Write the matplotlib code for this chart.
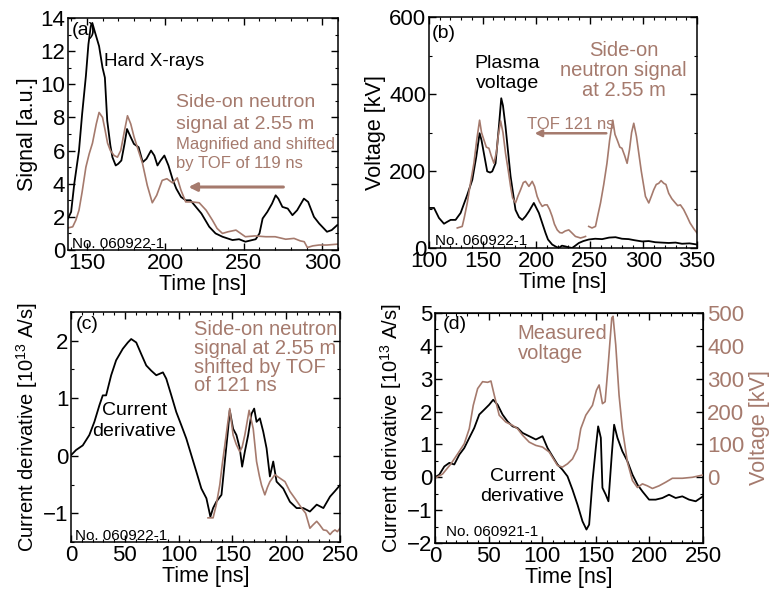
import matplotlib
matplotlib.use('Agg')
import matplotlib.pyplot as plt
from matplotlib.ticker import MultipleLocator

plt.rcParams['font.family'] = ['Liberation Sans', 'DejaVu Sans']
plt.rcParams['mathtext.fontset'] = 'custom'
plt.rcParams['mathtext.rm'] = 'Liberation Sans'

BROWN = '#a57a6d'
NARROW = ['Liberation Sans Narrow', 'Liberation Sans', 'DejaVu Sans']
TICK_FS = 16
LAB_FS = 15.5

# (a) hard X-rays and neutron signal
xray_t = [138, 140, 142, 145, 147, 149.4, 151, 152.5, 153.5, 155, 157.8, 160, 161.5, 163, 165, 166.3,
          168.4, 170, 172, 174, 175.6, 178, 180, 183, 185.6, 188, 190.9, 193, 195, 197, 199.4, 202,
          204.7, 207, 210, 213, 216, 219.5, 223, 228, 232, 236.4, 242.8, 247, 251, 257.6, 260, 262,
          265, 268, 270.3, 272, 274.6, 278, 281, 284, 288.3, 291, 294.7, 298, 303, 306, 309.5]
xray_v = [1.9, 2.3, 4.0, 6.0, 8.2, 10.5, 12.4, 13.5, 13.7, 13.2, 12.3, 11.0, 10.4, 7.8, 6.3, 5.6,
          5.1, 5.2, 5.4, 6.4, 7.3, 6.8, 6.4, 6.2, 5.3, 5.5, 6.0, 5.7, 5.1, 5.4, 5.7, 5.1,
          4.25, 3.7, 3.2, 3.0, 3.0, 2.6, 2.2, 1.4, 1.0, 0.8, 0.6, 0.65, 0.5, 0.65, 1.0, 1.9,
          2.3, 2.8, 3.3, 3.1, 2.6, 2.5, 2.1, 2.4, 3.1, 2.9, 2.0, 1.6, 1.1, 1.2, 1.5]
nta_t = [136.6, 141, 143, 145, 147, 149.4, 151.5, 153.6, 156, 157.8, 160, 161.5, 163.2, 165, 167.4,
         169.5, 171.6, 174, 175.9, 178, 180, 182.5, 185.4, 188.5, 191.7, 194.5, 198, 201, 204.6,
         207.6, 210, 213, 217, 221.6, 226, 230, 233, 236.4, 240, 245, 248, 251, 257, 264, 270,
         276.7, 282, 286, 288.5, 290.5, 294, 298, 303, 309.5]
nta_v = [1.3, 1.4, 1.8, 2.4, 3.5, 5.0, 5.8, 6.45, 7.6, 8.3, 8.0, 7.3, 6.45, 6.0, 5.7,
         5.6, 6.0, 7.2, 8.1, 7.6, 6.85, 6.1, 5.25, 3.9, 2.85, 3.3, 4.2, 4.3, 4.05,
         4.35, 3.6, 2.9, 2.9, 2.85, 2.4, 1.8, 1.3, 1.0, 1.1, 1.2, 1.0, 0.8, 0.85, 0.8, 0.8,
         0.65, 0.7, 0.55, 0.5, 0.15, 0.25, 0.3, 0.3, 0.35]

# (b) plasma voltage and neutron signal (shifted copy and original)
pv_t = [100, 104.7, 109.3, 114, 117, 120.2, 124.8, 129.5, 132, 135.7, 140.4, 144.1, 147.2, 149,
        151.2, 154.3, 157, 159, 162.1, 165.2, 167.4, 169, 171.4, 176.1, 180.7, 184, 187, 190,
        193.2, 197.8, 202.5, 205, 208.7, 211, 214.9, 218, 221, 224, 227.3, 230, 233.5, 236,
        239.8, 244, 249, 255, 261.5, 268, 274, 280, 286.3, 292, 298.8, 305, 311, 317, 323.6,
        330, 336, 343, 350]
pv_v = [104, 104, 78, 63, 68, 73, 73, 91, 110, 138, 177, 237, 298, 280,
        246, 199, 196, 199, 220, 315, 389, 370, 315, 186, 99, 80, 73, 82,
        95, 117, 91, 70, 39, 22, 9, 4, 0, 6, 4, 2, 0, 5,
        13, 18, 22, 24, 23, 27, 28, 24, 23, 20, 17, 18, 15, 14, 13,
        14, 11, 12, 9]
ntb1_t = [126.4, 131, 133, 135.7, 138.5, 141.9, 144.5, 147.2, 149, 151.2, 153.5, 155.9, 158,
          160.6, 163, 164.5, 166.8, 169, 171.4, 174, 176.1, 178, 180.7, 183, 185.4, 188, 190,
          193.2, 196.3, 198.5, 200.9, 203, 205.6, 208, 210.2, 212.5, 214.9, 217, 219.6, 222,
          224.2, 227, 230.4, 233, 236.6, 239, 241.3, 244, 246]
ntb1_v = [52, 56, 80, 117, 165, 220, 280, 332, 300, 281, 262, 259, 240,
          220, 250, 290, 330, 300, 246, 200, 160, 130, 117, 135, 151, 170, 173,
          160, 173, 160, 134, 120, 108, 112, 112, 100, 82, 62, 47, 40,
          39, 44, 47, 40, 30, 28, 26, 28, 30]
ntb2_t = [249, 252, 255.3, 257.5, 260, 263, 266, 268.5, 271.4, 273.5, 275.5, 278, 280, 282.5,
          284.8, 287, 289, 291, 293.5, 295.7, 298, 301.9, 305, 307.5, 309.6, 312, 314.3, 316.5,
          319, 321, 323.6, 326.5, 329.8, 332, 334.5, 337.5, 340.7, 343.5, 347, 350]
ntb2_v = [56, 52, 56, 85, 117, 165, 220, 280, 332, 295, 281, 262, 259, 240,
          220, 255, 300, 324, 290, 246, 200, 134, 117, 135, 151, 165, 168, 175,
          168, 165, 142, 128, 117, 110, 112, 100, 82, 65, 50, 39]

# (c) current derivative and shifted neutron signal
cdc_t = [0, 4.7, 10.9, 17, 21.7, 26.4, 29.5, 32.6, 37.3, 41.9, 48.1, 52.8, 55.9, 60.6, 65.2, 69.9,
         74.5, 79.2, 85.4, 88.5, 93.2, 97.8, 102.5, 107.1, 111.8, 116.5, 121.1, 125.8, 129.5, 132,
         135, 139.8, 142.9, 146, 147.5, 150.6, 153.7, 156.8, 159, 161.5, 164.6, 167.7, 170.2,
         172.4, 175.5, 178.6, 181.7, 184.8, 187.9, 191, 194.1, 197.2, 203.4, 209.6, 215.8, 222,
         228.3, 234.5, 240.7, 245, 250]
cdc_v = [0.01, 0.1, 0.18, 0.36, 0.59, 0.88, 1.05, 1.05, 1.4, 1.66, 1.86, 1.97, 2.03, 1.97, 1.77, 1.57,
         1.48, 1.4, 1.45, 1.34, 1.05, 0.76, 0.53, 0.3, 0.01, -0.28, -0.57, -0.74, -1.06, -0.91,
         -0.8, -0.68, -0.1, 0.47, 0.79, 0.47, 0.36, 0.13, -0.19, 0.07, 0.36, 0.73, 0.82,
         0.59, 0.65, 0.42, 0.13, -0.36, -0.1, -0.45, -0.51, -0.57, -0.8, -0.91, -0.91, -0.97,
         -0.85, -0.91, -0.71, -0.62, -0.51]
ntc_t = [127.3, 132, 135, 138.2, 140.5, 142.9, 145.5, 147.5, 150.6, 153.5, 156.8, 159, 161.5, 165.5,
         169.3, 172.4, 175, 177, 180.1, 182.5, 184.8, 189.4, 194.1, 198.8, 203.4, 208, 214.3, 218,
         222, 225, 228.3, 231, 234.5, 237.5, 240.7, 243, 245.3, 247.5, 250]
ntc_v = [-1.08, -1.08, -0.85, -0.51, -0.15, 0.18, 0.55, 0.82, 0.36, 0.2, 0.07, 0.15, 0.36, 0.79,
         0.47, -0.1, -0.35, -0.51, -0.68, -0.55, -0.45, -0.33, -0.39, -0.45, -0.62, -0.74, -0.91, -1.0,
         -1.26, -1.2, -1.14, -1.2, -1.29, -1.3, -1.37, -1.32, -1.29, -1.32, -1.26]

# (d) current derivative and measured voltage
cdd_t = [0, 4, 8.7, 13.4, 18, 22.7, 27.3, 32, 36.6, 41.3, 46, 50.6, 54.3, 58.4, 63, 67.7, 72.4, 77,
         81.7, 87.9, 94.1, 100.3, 105, 109.6, 114.3, 118.9, 123.6, 128.3, 132.9, 137.6, 141.3,
         143.8, 146.9, 150, 152.2, 154.7, 156.2, 159.3, 161.8, 164.9, 167.1, 170.2, 174.8, 179.5,
         184.2, 188.8, 193.5, 199.7, 205.9, 212.1, 218.3, 224.5, 230.7, 237, 243.2, 250]
cdd_v = [0, 0.08, 0.33, 0.44, 0.39, 0.69, 0.89, 1.2, 1.5, 1.91, 2.06, 2.21, 2.36, 2.21, 1.91, 1.7, 1.55, 1.5,
         1.35, 1.25, 1.15, 1.25, 0.89, 0.64, 0.39, 0.23, 0.03, -0.38, -0.83, -1.34, -1.59,
         -1.44, -0.12, 0.89, 1.55, 1.2, -0.32, -0.53, -0.73, 0.69, 1.6, 1.2, 0.79, 0.49,
         0.08, -0.22, -0.43, -0.68, -0.68, -0.63, -0.53, -0.63, -0.58, -0.68, -0.73, -0.58]
mv_t = [0, 7.1, 14.9, 21.1, 27.3, 32, 35.7, 39.8, 44.4, 49.1, 52.2, 55.3, 59.9, 66.1, 72.4, 77, 81.7,
        87.9, 94.1, 100.3, 106.5, 114.3, 118.9, 123.6, 128.3, 132.9, 136, 140.7, 146.9, 150.6,
        153.1, 156.2, 158.7, 161.8, 164.9, 166.1, 168.6, 171.7, 174.8, 179.5, 184.2, 188.8,
        193.5, 198.1, 202.8, 209, 215.2, 221.4, 230.7, 240.1, 250]
mv_v = [-3, 10, 41, 71, 102, 148, 219, 270, 291, 289, 293, 250, 189, 168, 158, 148, 128,
        107, 97, 92, 77, 36, 31, 41, 56, 87, 148, 189, 219, 265,
        281, 224, 230, 352, 485, 490, 403, 250, 148, 46, -10, -31,
        -20, -26, -34, -26, -15, -3, -3, 0, 7]

fig = plt.figure(figsize=(7.78, 5.91), dpi=100)
ax_a = fig.add_axes([0.0874, 0.577, 0.347, 0.3926])
ax_b = fig.add_axes([0.5514, 0.5804, 0.3445, 0.3908])
ax_c = fig.add_axes([0.0913, 0.0829, 0.3458, 0.3892])
ax_d = fig.add_axes([0.5591, 0.0812, 0.3445, 0.3892])


def style(ax, xmaj, xmin, ymaj, ymin, right=True):
    ax.xaxis.set_major_locator(MultipleLocator(xmaj))
    ax.xaxis.set_minor_locator(MultipleLocator(xmin))
    ax.yaxis.set_major_locator(MultipleLocator(ymaj))
    ax.yaxis.set_minor_locator(MultipleLocator(ymin))
    ax.tick_params(which='both', direction='in', top=True, right=right, labelsize=TICK_FS, pad=2)
    ax.tick_params(which='major', length=5, width=1)
    ax.tick_params(which='minor', length=2.5, width=0.8)
    for s in ax.spines.values():
        s.set_linewidth(1.1)
    ax.set_xlabel('Time [ns]', fontsize=LAB_FS, labelpad=0)


# (a)
ax_a.plot(xray_t, xray_v, color='black', lw=1.3)
ax_a.plot(nta_t, nta_v, color=BROWN, lw=1.2)
ax_a.set_xlim(138, 310)
ax_a.set_ylim(0, 14)
style(ax_a, 50, 10, 2, 1)
ax_a.set_ylabel('Signal [a.u.]', fontsize=LAB_FS, labelpad=2)
ax_a.text(140.5, 13.0, '(a)', fontsize=14)
ax_a.text(161, 11.4, 'Hard X-rays', fontsize=13.5, va='center')
ax_a.text(206.5, 8.9, 'Side-on neutron', fontsize=14, color=BROWN, va='center')
ax_a.text(206.5, 7.6, 'signal at 2.55 m', fontsize=14, color=BROWN, va='center')
ax_a.text(206.5, 6.35, 'Magnified and shifted', fontsize=12, color=BROWN, va='center', family=NARROW)
ax_a.text(206.5, 5.2, 'by TOF of 119 ns', fontsize=12, color=BROWN, va='center', family=NARROW)
ax_a.annotate('', xy=(213, 3.8), xytext=(277, 3.8),
              arrowprops=dict(arrowstyle='-|>', color=BROWN, lw=2.2, mutation_scale=12))
ax_a.text(140.5, 0.15, 'No. 060922-1', fontsize=11)

# (b)
ax_b.plot(pv_t, pv_v, color='black', lw=1.3)
ax_b.plot(ntb1_t, ntb1_v, color=BROWN, lw=1.2)
ax_b.plot(ntb2_t, ntb2_v, color=BROWN, lw=1.2)
ax_b.set_xlim(100, 350)
ax_b.set_ylim(0, 600)
style(ax_b, 50, 10, 200, 100)
ax_b.set_ylabel('Voltage [kV]', fontsize=LAB_FS, labelpad=2)
ax_b.text(103, 545, '(b)', fontsize=14)
ax_b.text(173, 479, 'Plasma', fontsize=14, ha='center', va='center')
ax_b.text(173, 427, 'voltage', fontsize=14, ha='center', va='center')
ax_b.text(281.5, 514, 'Side-on', fontsize=14.5, color=BROWN, ha='center', va='center')
ax_b.text(281.5, 460, 'neutron signal', fontsize=14.5, color=BROWN, ha='center', va='center')
ax_b.text(281.5, 408, 'at 2.55 m', fontsize=14.5, color=BROWN, ha='center', va='center')
ax_b.text(232, 320, 'TOF 121 ns', fontsize=12, color=BROWN, ha='center', va='center', family=NARROW)
ax_b.annotate('', xy=(196, 298), xytext=(268, 298),
              arrowprops=dict(arrowstyle='-|>', color=BROWN, lw=1.8, mutation_scale=10))
ax_b.text(106, 8, 'No. 060922-1', fontsize=11)

# (c)
ax_c.plot(cdc_t, cdc_v, color='black', lw=1.3)
ax_c.plot(ntc_t, ntc_v, color=BROWN, lw=1.2)
ax_c.set_xlim(0, 250)
ax_c.set_ylim(-1.5, 2.5)
style(ax_c, 50, 10, 1, 0.5)
ax_c.set_ylabel('Current derivative [10$^{13}$ A/s]', fontsize=14.5, labelpad=2)
ax_c.text(4, 2.2, '(c)', fontsize=14)
ax_c.text(59, 0.79, 'Current', fontsize=14, ha='center', va='center')
ax_c.text(59, 0.43, 'derivative', fontsize=14, ha='center', va='center')
for txt, yy in zip(['Side-on neutron', 'signal at 2.55 m', 'shifted by TOF', 'of 121 ns'],
                   [2.2, 1.87, 1.54, 1.22]):
    ax_c.text(114, yy, txt, fontsize=14.5, color=BROWN, va='center')
ax_c.text(4, -1.46, 'No. 060922-1', fontsize=11)

# (d)
ax_d.plot(cdd_t, cdd_v, color='black', lw=1.3)
ax_d.set_xlim(0, 250)
ax_d.set_ylim(-2, 5)
style(ax_d, 50, 10, 1, 0.5, right=False)
ax_d.set_ylabel('Current derivative [10$^{13}$ A/s]', fontsize=14.5, labelpad=2)
ax_d2 = ax_d.twinx()
ax_d2.plot(mv_t, mv_v, color=BROWN, lw=1.2)
ax_d2.set_ylim(-200, 500)
ax_d2.set_yticks([0, 100, 200, 300, 400, 500])
ax_d2.yaxis.set_minor_locator(MultipleLocator(50))
ax_d2.tick_params(which='both', direction='in', labelsize=TICK_FS, labelcolor=BROWN, pad=3)
ax_d2.tick_params(which='major', length=5, width=1)
ax_d2.tick_params(which='minor', length=2.5, width=0.8)
ax_d2.set_ylabel('Voltage [kV]', fontsize=LAB_FS, color=BROWN, labelpad=3)
ax_d.text(7, 4.5, '(d)', fontsize=14)
ax_d.text(77, 4.39, 'Measured', fontsize=14.5, color=BROWN, va='center')
ax_d.text(77, 3.78, 'voltage', fontsize=14.5, color=BROWN, va='center')
ax_d.text(81.7, 0.03, 'Current', fontsize=14, ha='center', va='center')
ax_d.text(81.7, -0.58, 'derivative', fontsize=14, ha='center', va='center')
ax_d.text(10, -1.78, 'No. 060921-1', fontsize=11)

fig.savefig('out.png', dpi=100)
